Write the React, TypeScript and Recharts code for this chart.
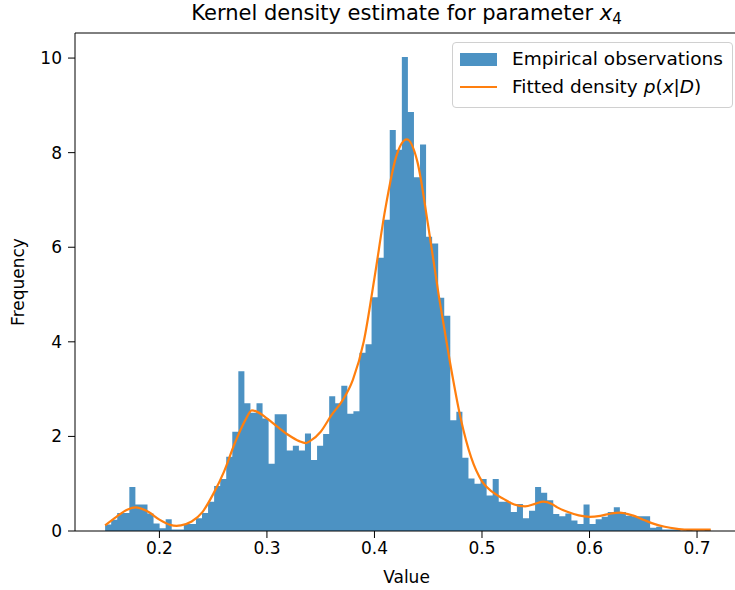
import React from "react";
import { ComposedChart, Area, Line, XAxis, YAxis, Legend, ReferenceLine } from "recharts";

/* ── Data ──────────────────────────────────────────────────────── */
// histogram: 100 equal bins between these two values
const BIN_START = 0.1495;
const BIN_END = 0.7127;
const binHeights = [
  0.14, 0.24, 0.38, 0.38, 0.93, 0.56, 0.56, 0.37, 0.16, 0.06,
  0.25, 0.03, 0.03, 0.15, 0.15, 0.27, 0.38, 0.62, 0.95, 1.1,
  1.57, 2.1, 3.38, 2.7, 2.5, 2.7, 2.38, 1.42, 2.47, 2.47,
  1.7, 1.8, 1.7, 2.06, 1.5, 1.8, 2.05, 2.85, 2.7, 3.07,
  2.48, 2.53, 3.77, 3.95, 4.94, 5.78, 6.58, 8.48, 8.06, 10.02,
  8.86, 7.48, 8.17, 6.22, 6.08, 4.93, 4.55, 2.34, 2.52, 1.55,
  1.11, 1.0, 1.1, 0.75, 1.1, 0.62, 0.62, 0.4, 0.57, 0.27,
  0.43, 0.93, 0.81, 0.65, 0.36, 0.31, 0.37, 0.22, 0.15, 0.56,
  0.15, 0.25, 0.3, 0.4, 0.5, 0.4, 0.32, 0.31, 0.31, 0.31,
  0.07, 0.09, 0.03, 0.03, 0.03, 0, 0.03, 0, 0, 0.03,
];

// fitted density curve
const kdeX = [
  0.1495, 0.16, 0.17, 0.178, 0.19, 0.2, 0.21, 0.216, 0.22, 0.23,
  0.24, 0.25, 0.26, 0.27, 0.28, 0.286, 0.29, 0.3, 0.31, 0.32,
  0.33, 0.336, 0.34, 0.35, 0.36, 0.37, 0.38, 0.39, 0.4, 0.41,
  0.42, 0.43, 0.44, 0.45, 0.46, 0.47, 0.48, 0.49, 0.5, 0.51,
  0.52, 0.53, 0.54, 0.55, 0.557, 0.565, 0.57, 0.58, 0.59, 0.6,
  0.61, 0.62, 0.628, 0.64, 0.65, 0.66, 0.67, 0.68, 0.69, 0.7, 0.7127,
];
const kdeY = [
  0.12, 0.3, 0.45, 0.5, 0.4, 0.24, 0.13, 0.11, 0.12, 0.2,
  0.4, 0.78, 1.25, 1.85, 2.35, 2.55, 2.53, 2.38, 2.2, 2.03,
  1.9, 1.86, 1.9, 2.1, 2.45, 2.75, 3.2, 4.0, 5.35, 6.8,
  7.9, 8.28, 7.8, 6.45, 4.95, 3.6, 2.4, 1.55, 1.05, 0.82,
  0.68, 0.56, 0.52, 0.58, 0.62, 0.57, 0.5, 0.4, 0.33, 0.3,
  0.32, 0.37, 0.39, 0.33, 0.24, 0.15, 0.09, 0.05, 0.03, 0.03, 0.03,
];

const xTicks = [0.2, 0.3, 0.4, 0.5, 0.6, 0.7];
const yTicks = [0, 2, 4, 6, 8, 10];

/* ── Style ─────────────────────────────────────────────────────── */
const FONT = "'DejaVu Sans', sans-serif";
const BAR_COLOR = "#1f77b4";
const LINE_COLOR = "#ff7f0e";
const X_DOMAIN: [number, number] = [0.1215, 0.7353];
const Y_DOMAIN: [number, number] = [0, 10.53];
const tickStyle = { fill: "#000", fontSize: 17, fontFamily: FONT };

const binWidth = (BIN_END - BIN_START) / binHeights.length;
const histData = [
  ...binHeights.map((h, i) => ({ x: BIN_START + i * binWidth, y: h })),
  { x: BIN_END, y: 0 },
];
const kdeData = kdeX.map((x, i) => ({ x, y: kdeY[i] }));

function LegendBox() {
  return (
    <div style={{
      boxSizing: "border-box", width: 281, height: 66, border: "1px solid #d0d0d0",
      borderRadius: 4, background: "rgba(255,255,255,0.8)", fontFamily: FONT,
      fontSize: 18.5, color: "#000", position: "relative",
    }}>
      <div style={{ position: "absolute", left: 7, top: 10, width: 37, height: 13, background: BAR_COLOR, opacity: 0.8 }} />
      <div style={{ position: "absolute", left: 59, top: 4, lineHeight: "24px", whiteSpace: "nowrap" }}>
        Empirical observations
      </div>
      <div style={{ position: "absolute", left: 7, top: 43, width: 37, height: 2, background: LINE_COLOR }} />
      <div style={{ position: "absolute", left: 59, top: 32, lineHeight: "24px", whiteSpace: "nowrap" }}>
        Fitted density <i>p</i>(<i>x</i>|<i>D</i>)
      </div>
    </div>
  );
}

export default function App() {
  return (
    <div style={{ position: "absolute", left: 0, top: 0, width: 735, height: 590, background: "#fff" }}>
      <ComposedChart width={735} height={590} margin={{ top: 33, right: 0, left: 15, bottom: 29 }}>
        <XAxis
          type="number" dataKey="x" domain={X_DOMAIN} ticks={xTicks} allowDataOverflow
          tickFormatter={(v) => v.toFixed(1)} tick={tickStyle} tickSize={7} tickMargin={4}
          axisLine={{ stroke: "#000" }} tickLine={{ stroke: "#000" }} height={30}
        />
        <YAxis
          type="number" domain={Y_DOMAIN} ticks={yTicks} allowDataOverflow width={60}
          tick={tickStyle} tickSize={7} tickMargin={6}
          axisLine={{ stroke: "#000" }} tickLine={{ stroke: "#000" }}
        />
        <Area
          data={histData} dataKey="y" type="stepAfter" stroke="none"
          fill={BAR_COLOR} fillOpacity={0.8} isAnimationActive={false}
          name="Empirical observations"
        />
        <Line
          data={kdeData} dataKey="y" type="monotone" stroke={LINE_COLOR} strokeWidth={2.2}
          dot={false} activeDot={false} isAnimationActive={false} name="Fitted density"
        />
        {/* top spine */}
        <ReferenceLine y={Y_DOMAIN[1]} stroke="#000" ifOverflow="visible" />
        <Legend
          layout="horizontal" verticalAlign="middle" align="center"
          wrapperStyle={{ left: 452, top: 42, width: 281, height: 66 }}
          content={() => <LegendBox />}
        />
      </ComposedChart>

      <div style={{
        position: "absolute", left: 75, width: 663, top: 3, textAlign: "center",
        fontFamily: FONT, fontSize: 21, lineHeight: "21px", color: "#000", whiteSpace: "nowrap",
      }}>
        Kernel density estimate for parameter <i>x</i>
        <span style={{ fontSize: 15, position: "relative", top: 4 }}>4</span>
      </div>
      <div style={{
        position: "absolute", left: 75, width: 663, top: 569, textAlign: "center",
        fontFamily: FONT, fontSize: 17, lineHeight: "17px", color: "#000",
      }}>
        Value
      </div>
      <div style={{
        position: "absolute", left: 18, top: 282, transform: "translate(-50%, -50%) rotate(-90deg)",
        fontFamily: FONT, fontSize: 17, lineHeight: "17px", color: "#000", whiteSpace: "nowrap",
      }}>
        Frequency
      </div>
    </div>
  );
}
